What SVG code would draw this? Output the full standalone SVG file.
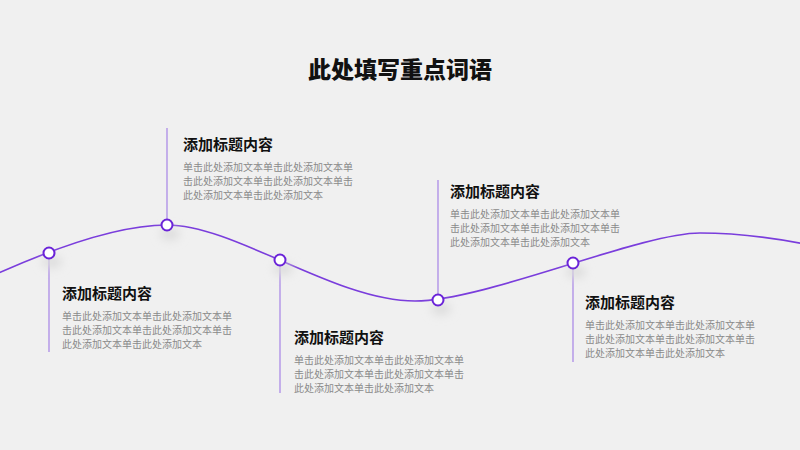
<svg xmlns="http://www.w3.org/2000/svg" width="800" height="450" viewBox="0 0 800 450">
<defs>
<style>
.title{font-family:"Noto Sans CJK SC","Noto Sans",sans-serif;font-size:23px;font-weight:900;fill:#111}
.h{font-family:"Noto Sans CJK SC","Noto Sans",sans-serif;font-size:15px;font-weight:bold;fill:#111}
.b{font-family:"Noto Sans CJK SC","Noto Sans",sans-serif;font-size:10px;fill:#8a8a8a}
.v{stroke:#a683e6;stroke-width:1.2;fill:none}
.dot{fill:#fff;stroke:#6a23d8;stroke-width:2}
.sd{fill:#dcdcdc}
</style>
<filter id="sh" x="-100%" y="-100%" width="300%" height="300%">
<feGaussianBlur stdDeviation="5"/>
</filter>
</defs>
<rect width="800" height="450" fill="#f0f0f0"/>
<text class="title" x="400" y="78" text-anchor="middle">此处填写重点词语</text>
<g id="connectors">
<path d="M-10,277 C60,245 120,225 167,225 C235,225 335,301 415,301 C485,301 640,233 700,233 C740,233 775,238 810,245" fill="none" stroke="#7a3ddc" stroke-width="1.6"/>
<line class="v" x1="49" y1="253" x2="49" y2="352"/>
<line class="v" x1="167" y1="128" x2="167" y2="225"/>
<line class="v" x1="280" y1="260" x2="280" y2="393"/>
<line class="v" x1="438" y1="180" x2="438" y2="300"/>
<line class="v" x1="573" y1="263" x2="573" y2="362"/>
</g>
<g id="node1">
<ellipse class="sd" cx="52" cy="262" rx="10" ry="6" filter="url(#sh)"/>
<circle class="dot" cx="49" cy="253" r="5.5"/>
<text class="h" x="62" y="299">添加标题内容</text>
<text class="b" x="62" y="320">单击此处添加文本单击此处添加文本单</text>
<text class="b" x="62" y="334">击此处添加文本单击此处添加文本单击</text>
<text class="b" x="62" y="348">此处添加文本单击此处添加文本</text>
</g>
<g id="node2">
<ellipse class="sd" cx="170" cy="234" rx="10" ry="6" filter="url(#sh)"/>
<circle class="dot" cx="167" cy="225" r="5.5"/>
<text class="h" x="183" y="150">添加标题内容</text>
<text class="b" x="183" y="171">单击此处添加文本单击此处添加文本单</text>
<text class="b" x="183" y="185">击此处添加文本单击此处添加文本单击</text>
<text class="b" x="183" y="199">此处添加文本单击此处添加文本</text>
</g>
<g id="node3">
<ellipse class="sd" cx="283" cy="269" rx="10" ry="6" filter="url(#sh)"/>
<circle class="dot" cx="280" cy="260" r="5.5"/>
<text class="h" x="294" y="343">添加标题内容</text>
<text class="b" x="294" y="364">单击此处添加文本单击此处添加文本单</text>
<text class="b" x="294" y="378">击此处添加文本单击此处添加文本单击</text>
<text class="b" x="294" y="392">此处添加文本单击此处添加文本</text>
</g>
<g id="node4">
<ellipse class="sd" cx="441" cy="309" rx="10" ry="6" filter="url(#sh)"/>
<circle class="dot" cx="438" cy="300" r="5.5"/>
<text class="h" x="450" y="197">添加标题内容</text>
<text class="b" x="450" y="218">单击此处添加文本单击此处添加文本单</text>
<text class="b" x="450" y="232">击此处添加文本单击此处添加文本单击</text>
<text class="b" x="450" y="246">此处添加文本单击此处添加文本</text>
</g>
<g id="node5">
<ellipse class="sd" cx="576" cy="272" rx="10" ry="6" filter="url(#sh)"/>
<circle class="dot" cx="573" cy="263" r="5.5"/>
<text class="h" x="585" y="308">添加标题内容</text>
<text class="b" x="585" y="329">单击此处添加文本单击此处添加文本单</text>
<text class="b" x="585" y="343">击此处添加文本单击此处添加文本单击</text>
<text class="b" x="585" y="357">此处添加文本单击此处添加文本</text>
</g>
</svg>
